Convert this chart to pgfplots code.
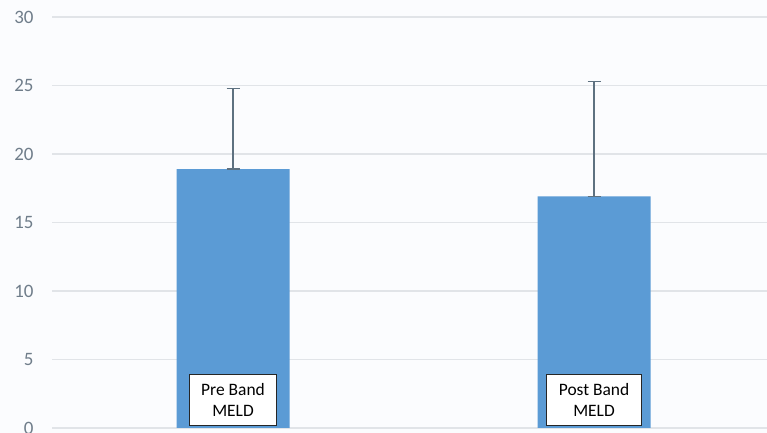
\documentclass[border=0pt]{standalone}
\usepackage{fontspec}
\setmainfont{Carlito}
\usepackage{pgfplots}
\pgfplotsset{compat=1.18}
\definecolor{barblue}{HTML}{5B9BD5}
\definecolor{errgray}{HTML}{5E7180}
\definecolor{gridgray}{HTML}{E1E4E8}
\definecolor{ticktext}{HTML}{6F7D8A}
\definecolor{bgpaper}{HTML}{FBFCFE}
\begin{document}
\begin{tikzpicture}
\fill[bgpaper] (-52.5bp,-5bp) rectangle (714.5bp,428bp);
\useasboundingbox (-52.5bp,-5bp) rectangle (714.5bp,428bp);
\begin{axis}[
    scale only axis,
    width=714.5bp, height=411bp,
    xmin=-0.5, xmax=1.479,
    ymin=0, ymax=30,
    ytick={0,5,...,30},
    xtick=\empty,
    axis line style={draw=none},
    major tick length=0pt,
    ymajorgrids,
    grid style={gridgray, line width=1.3bp},
    /pgf/number format/assume math mode=true,
    yticklabel style={ticktext, font=\fontsize{19}{21}\selectfont, anchor=east, xshift=-15.5bp},
    ybar,
    bar width=0.313,
    ]
\addplot[fill=barblue, draw=none,
    error bars/.cd, y dir=both, y explicit,
    error bar style={errgray, line width=1.2bp},
    error mark options={errgray, rotate=90, mark size=6.5bp, line width=1.2bp}]
    coordinates {
    (0,18.9) += (0,5.9) -= (0,0)
    (1,16.9) += (0,8.4) -= (0,0)
    };
\node[draw=black!85, fill=white, line width=0.9bp, align=center,
    font=\fontsize{17.5}{20.5}\selectfont, inner xsep=12bp, inner ysep=9.5bp,
    anchor=south, yshift=2bp] at (axis cs:0,0) {Pre Band\\MELD};
\node[draw=black!85, fill=white, line width=0.9bp, align=center,
    font=\fontsize{17.5}{20.5}\selectfont, inner xsep=12bp, inner ysep=9.5bp,
    anchor=south, yshift=2bp] at (axis cs:1,0) {Post Band\\MELD};
\end{axis}
\end{tikzpicture}
\end{document}
